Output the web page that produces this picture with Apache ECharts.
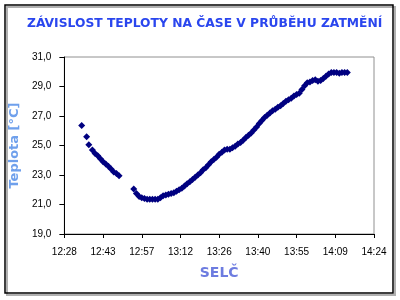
<!DOCTYPE html>
<html><head><meta charset="utf-8">
<script src="https://cdn.jsdelivr.net/npm/echarts@6/dist/echarts.min.js"></script>
<style>html,body{margin:0;padding:0;background:#fff}#c{width:400px;height:300px}</style>
</head><body><div id="c"></div>
<script>
// Measurement times (clock, SELČ)
var times = [
 "12:34:30","12:36:20","12:37:10",
 "12:38:30","12:39:30","12:40:30","12:41:30","12:42:30","12:43:30","12:44:30","12:45:30","12:46:30","12:47:30","12:48:30",
 "12:54","12:55","12:56","12:57","12:58","12:59","13:00","13:01","13:02","13:03",
 "13:04","13:05","13:06","13:07","13:08","13:09","13:10","13:11","13:12","13:13",
 "13:14","13:15","13:16","13:17","13:18","13:19","13:20","13:21","13:22","13:23",
 "13:24","13:25","13:26","13:27","13:28","13:29","13:30","13:31","13:32","13:33",
 "13:34","13:35","13:36","13:37","13:38","13:39","13:40","13:41","13:42","13:43",
 "13:44","13:45","13:46","13:47","13:48","13:49","13:50","13:51","13:52","13:53",
 "13:54","13:55","13:56","13:57","13:58","13:59","14:00","14:01","14:02","14:03",
 "14:04","14:05","14:06","14:07","14:08","14:09","14:10","14:11","14:12","14:13","14:14"
];
// Temperature [°C]
var temps = [
 26.35, 25.6, 25.05,
 24.7, 24.45, 24.3, 24.1, 23.9, 23.75, 23.6, 23.4, 23.2, 23.1, 22.95,
 22.05, 21.75, 21.55, 21.45, 21.4, 21.35, 21.35, 21.35, 21.35, 21.35,
 21.45, 21.6, 21.65, 21.7, 21.75, 21.8, 21.9, 22.0, 22.1, 22.25,
 22.4, 22.55, 22.7, 22.85, 23.0, 23.15, 23.35, 23.5, 23.7, 23.9,
 24.05, 24.2, 24.4, 24.55, 24.7, 24.75, 24.75, 24.85, 24.95, 25.1,
 25.2, 25.35, 25.55, 25.7, 25.85, 26.05, 26.25, 26.5, 26.7, 26.9,
 27.05, 27.2, 27.35, 27.45, 27.6, 27.7, 27.85, 28.0, 28.1, 28.2,
 28.35, 28.45, 28.55, 28.8, 29.05, 29.25, 29.3, 29.4, 29.45, 29.35,
 29.4, 29.55, 29.7, 29.85, 29.95, 29.95, 29.95, 29.9, 29.95, 29.95, 29.95
];
var xTickLabels = ["12:28","12:43","12:57","13:12","13:26","13:40","13:55","14:09","14:24"];
var yMin = 19, yMax = 31, yStep = 2;

function toMin(s){var p=s.split(':').map(Number);return p[0]*60+p[1]+(p[2]||0)/60;}
var t0 = toMin(xTickLabels[0]);
var span = toMin(xTickLabels[xTickLabels.length-1]) - t0;
var step = span/(xTickLabels.length-1);
var data = times.map(function(t,i){return [toMin(t)-t0, temps[i]];});

var chart = echarts.init(document.getElementById('c'), null, {renderer:'canvas'});
chart.setOption({
  animation:false,
  backgroundColor:'#ffffff',
  title:{text:'ZÁVISLOST TEPLOTY NA ČASE V PRŮBĚHU ZATMĚNÍ', left:27, top:18, padding:0,
    textStyle:{fontFamily:'DejaVu Sans', fontWeight:'bold', fontSize:12.3, color:'#2a46ee'}},
  graphic:[
    {type:'rect', shape:{x:7,y:7,width:388,height:288}, style:{fill:'none', stroke:'#b0b0b0', lineWidth:2}, z:-1},
    {type:'rect', shape:{x:5,y:5,width:388,height:288}, style:{fill:'none', stroke:'#000', lineWidth:1.5}}
  ],
  grid:{left:62, right:26, top:57, bottom:66, show:true, borderColor:'#909090', borderWidth:1},
  xAxis:{type:'value', min:0, max:span, interval:step,
    name:'SELČ', nameLocation:'middle', nameGap:32,
    nameTextStyle:{fontFamily:'DejaVu Sans', fontWeight:'bold', fontSize:14, color:'#6d7ce0'},
    axisLine:{lineStyle:{color:'#000', width:1}},
    axisTick:{inside:false, length:4, lineStyle:{color:'#000'}},
    splitLine:{show:false},
    axisLabel:{margin:13, fontFamily:'Liberation Sans', fontSize:10, color:'#000',
      formatter:function(v){return xTickLabels[Math.round(v/step)]||'';}}
  },
  yAxis:{type:'value', min:yMin, max:yMax, interval:yStep,
    name:'Teplota [°C]', nameLocation:'middle', nameGap:40,
    nameTextStyle:{fontFamily:'DejaVu Sans', fontWeight:'bold', fontSize:13, color:'#6fa0ec'},
    axisLine:{show:true, lineStyle:{color:'#000', width:1}},
    axisTick:{show:true, length:5, lineStyle:{color:'#000'}},
    splitLine:{show:false},
    axisLabel:{margin:13, fontFamily:'Liberation Sans', fontSize:10, color:'#000',
      formatter:function(v){return v.toFixed(1).replace('.',',');}}
  },
  series:[{type:'scatter', data:data, symbol:'diamond', symbolSize:7,
    itemStyle:{color:'#000080', opacity:1}}]
});
</script></body></html>
